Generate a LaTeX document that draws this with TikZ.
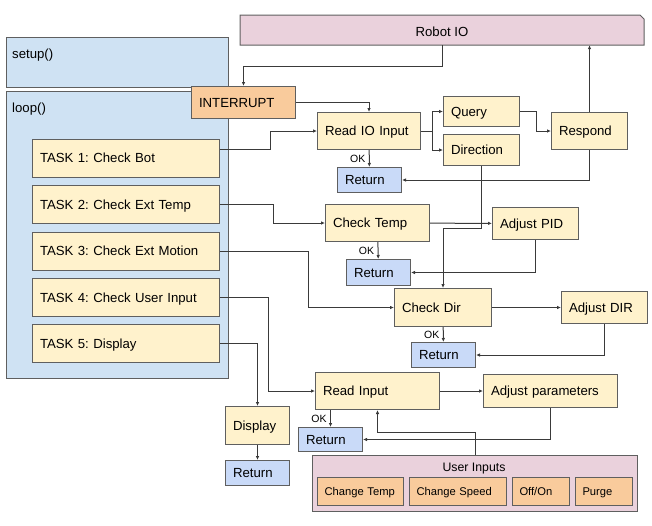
\documentclass[tikz,border=0pt]{standalone}
\usepackage{fontspec}
\setmainfont{Liberation Sans}
\usepackage{tikz}
\usetikzlibrary{arrows.meta}
\frenchspacing

\definecolor{bordc}{HTML}{5F5F5F}
\definecolor{linec}{HTML}{3A3A3A}
\definecolor{ylwc}{HTML}{FFF2CC}
\definecolor{orgc}{HTML}{F9CB9C}
\definecolor{pinkc}{HTML}{EAD1DC}
\definecolor{bluec}{HTML}{CFE2F3}
\definecolor{retc}{HTML}{C9DAF8}

\begin{document}
\begin{tikzpicture}[x=1pt,y=1pt,yscale=-1,xscale=1,
    font=\fontsize{13.2}{15}\selectfont,
    blk/.style={draw=bordc, line width=1pt, anchor=north west, inner xsep=7.5pt, inner ysep=0pt, align=left, text depth=0pt},
    ybox/.style={blk, fill=ylwc},
    obox/.style={blk, fill=orgc},
    bbox/.style={blk, fill=bluec},
    rbox/.style={blk, fill=retc, text width=49pt, minimum height=25pt},
    pbox/.style={blk, fill=pinkc},
    arr/.style={draw=linec, line width=1pt, -{Latex[length=4pt,width=3.5pt]}},
    okl/.style={font=\fontsize{10.5}{12}\selectfont, inner sep=3.5pt},
    btn/.style={obox, font=\fontsize{11.2}{13}\selectfont, inner xsep=7pt, minimum height=28pt}]
    \useasboundingbox (0,0) rectangle (652,525);

    %Shape: Robot IO (snipped corner)
    \draw [draw=bordc, line width=1pt, fill=pinkc] (240,15) -- (640,15) -- (644,19) -- (644,45) -- (240,45) -- cycle;
    \node [minimum width=404pt, minimum height=30pt, inner sep=0pt] (robotio) at (442,30) {};
    \node [inner sep=0pt] (robotiotxt) at (442,32) {Robot IO};

    %Shape: setup() and loop()
    \node [bbox, minimum width=222pt, minimum height=50pt] (setup) at (6,37) {};
    \node [anchor=west, inner sep=0pt] (setuptxt) at (12,55.5) {setup()};
    \node [bbox, minimum width=222pt, minimum height=287pt] (loop) at (6,91) {};
    \node [anchor=west, inner sep=0pt] (looptxt) at (12,109.5) {loop()};

    %Tasks
    \foreach \i/\y/\t in {1/138.5/Check Bot, 2/185/Check Ext Temp, 3/231.5/Check Ext Motion, 4/278/Check User Input, 5/324/Display}
        \node [ybox, text width=172pt, minimum height=38pt] (task\i) at (32,\y) {TASK \i: \t};

    \node [obox, text width=89pt, minimum height=32pt] (interrupt) at (191,86) {INTERRUPT};

    %Robot IO branch
    \node [ybox, text width=88pt, minimum height=37pt] (readio) at (317,112) {Read IO Input};
    \node [ybox, text width=61pt, minimum height=30pt] (query) at (443,96) {Query};
    \node [ybox, text width=61pt, minimum height=31pt] (direction) at (443,134) {Direction};
    \node [ybox, text width=61pt, minimum height=37pt] (respond) at (551,112) {Respond};
    \node [rbox] (ret1) at (337,167) {Return};

    %Temperature branch
    \node [ybox, text width=89pt, minimum height=37pt] (chktemp) at (325,204) {Check Temp};
    \node [ybox, text width=71pt, minimum height=32pt] (adjpid) at (492,207) {Adjust PID};
    \node [rbox, minimum height=26pt] (ret2) at (346,259) {Return};

    %Motion branch
    \node [ybox, text width=82pt, minimum height=38pt] (chkdir) at (394,288) {Check Dir};
    \node [ybox, text width=71pt, minimum height=32pt] (adjdir) at (561,291) {Adjust DIR};
    \node [rbox] (ret3) at (411,342) {Return};

    %User input branch
    \node [ybox, text width=109pt, minimum height=37pt] (readin) at (315,372) {Read Input};
    \node [ybox, text width=119pt, minimum height=33pt] (adjpar) at (483,374) {Adjust parameters};
    \node [rbox, minimum height=24pt] (ret4) at (298,427) {Return};

    %Display branch
    \node [ybox, text width=49pt, minimum height=38pt] (display) at (225,406) {Display};
    \node [rbox] (ret5) at (225,460) {Return};

    %User Inputs panel
    \node [pbox, minimum width=325pt, minimum height=56pt] (userin) at (312,455) {};
    \node [font=\fontsize{12.3}{14}\selectfont, inner sep=0pt] (userlbl) at (474,469) {User Inputs};
    \node [btn, text width=72pt] (chgtemp) at (317,477) {Change~Temp};
    \node [btn, text width=83pt] (chgspeed) at (409,477) {Change~Speed};
    \node [btn, text width=43pt] (offon) at (512,477) {Off/On};
    \node [btn, text width=43pt] (purge) at (575,477) {Purge};

    %Connectors
    \draw [arr] (robotio.south) -- ++(0,21) -| (interrupt);
    \draw [arr] (interrupt) -| (readio);
    \draw [arr] ([yshift=-9pt]task1.east) -- ++(50,0) |- (readio);
    \draw [arr] (readio.east) -- ++(11,0) |- (query);
    \draw [arr] (readio.east) -- ++(11,0) |- (direction);
    \draw [arr] (query.east) -- ++(16,0) |- (respond);
    \draw [arr] (respond) -- (respond |- robotio.south);
    \draw [arr] (respond) |- (ret1);
    \draw [arr] (readio) -- node [okl, left] {OK} (ret1);

    \draw [arr] (task2.east) -- ++(53,0) |- (chktemp);
    \draw [arr] (chktemp) -- (adjpid);
    \draw [arr] (direction.south) -- ++(0,62) -| (chkdir);
    \draw [arr] (adjpid) |- (ret2);
    \draw [arr] (chktemp) -- node [okl, left] {OK} (ret2);

    \draw [arr] (task3.east) -- ++(88,0) |- (chkdir);
    \draw [arr] (chkdir) -- (adjdir);
    \draw [arr] (adjdir) |- (ret3);
    \draw [arr] (chkdir) -- node [okl, left] {OK} (ret3);

    \draw [arr] (task4.east) -- ++(48.7,0) |- (readin);
    \draw [arr] (readin) -- (adjpar);
    \draw [arr] (adjpar) |- (ret4);
    \draw [arr] (ret4 |- readin.south) -- node [okl, left] {OK} (ret4);
    \draw [arr] (userin.north) -- ++(0,-23) -| (readin);

    \draw [arr] (task5) -| (display);
    \draw [arr] (display) -- (ret5);
\end{tikzpicture}
\end{document}
